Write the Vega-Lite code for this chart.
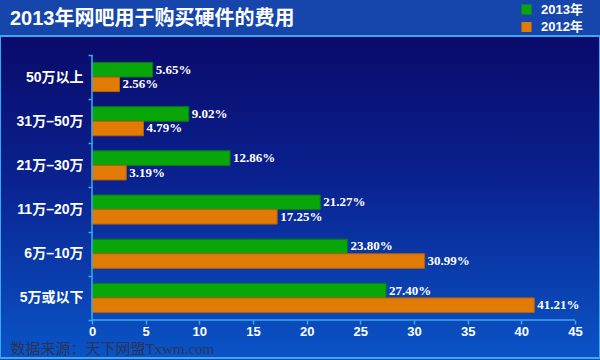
{
  "$schema": "https://vega.github.io/schema/vega-lite/v6.json",
  "width": 600,
  "height": 322,
  "autosize": {"type": "none"},
  "padding": {"left": 0, "top": 36, "right": 0, "bottom": 2},
  "background": "#1646ac",
  "view": {
    "fill": {"gradient": "linear", "x1": 0, "y1": 0, "x2": 0, "y2": 1,
      "stops": [{"offset": 0, "color": "#0a0a6a"}, {"offset": 0.45, "color": "#0a2290"}, {"offset": 1, "color": "#0a54c6"}]},
    "stroke": "#3aaaf0",
    "strokeWidth": 2
  },
  "title": {
    "text": "2013年网吧用于购买硬件的费用",
    "anchor": "start",
    "frame": "group",
    "dx": 10,
    "offset": -26,
    "font": "Liberation Sans, Noto Sans CJK SC",
    "fontSize": 20,
    "fontWeight": "bold",
    "color": "#ffffff"
  },
  "datasets": {
    "main": [
      {"cat": "50万以上", "year": "2013年", "v": 5.65, "label": "5.65%"},
      {"cat": "50万以上", "year": "2012年", "v": 2.56, "label": "2.56%"},
      {"cat": "31万–50万", "year": "2013年", "v": 9.02, "label": "9.02%"},
      {"cat": "31万–50万", "year": "2012年", "v": 4.79, "label": "4.79%"},
      {"cat": "21万–30万", "year": "2013年", "v": 12.86, "label": "12.86%"},
      {"cat": "21万–30万", "year": "2012年", "v": 3.19, "label": "3.19%"},
      {"cat": "11万–20万", "year": "2013年", "v": 21.27, "label": "21.27%"},
      {"cat": "11万–20万", "year": "2012年", "v": 17.25, "label": "17.25%"},
      {"cat": "6万–10万", "year": "2013年", "v": 23.80, "label": "23.80%"},
      {"cat": "6万–10万", "year": "2012年", "v": 30.99, "label": "30.99%"},
      {"cat": "5万或以下", "year": "2013年", "v": 27.40, "label": "27.40%"},
      {"cat": "5万或以下", "year": "2012年", "v": 41.21, "label": "41.21%"}
    ]
  },
  "layer": [
    {
      "data": {"name": "main"},
      "mark": {"type": "bar", "strokeWidth": 1},
      "encoding": {
        "x": {
          "field": "v", "type": "quantitative",
          "scale": {"domain": [-8.572, 47.33], "nice": false, "zero": false},
          "axis": {
            "values": [0, 5, 10, 15, 20, 25, 30, 35, 40, 45],
            "offset": -38,
            "domain": false,
            "grid": false,
            "tickColor": "#3aaaf0",
            "tickSize": 4,
            "tickWidth": 1.5,
            "labelPadding": 1,
            "labelFont": "Liberation Sans",
            "labelFontSize": 13,
            "labelFontWeight": "bold",
            "labelColor": "#ffffff",
            "labelFlush": false,
            "title": "数据来源：天下网盟Txwm.com",
            "titleAnchor": "start",
            "titleAlign": "left",
            "titleX": 10,
            "titleY": 33,
            "titleBaseline": "alphabetic",
            "titleFont": "Liberation Serif, Noto Sans CJK SC",
            "titleFontSize": 15,
            "titleFontWeight": "normal",
            "titleColor": "#2a3458"
          }
        },
        "y": {
          "field": "cat", "type": "nominal",
          "scale": {
            "domain": ["50万以上", "31万–50万", "21万–30万", "11万–20万", "6万–10万", "5万或以下"],
            "paddingInner": 0, "paddingOuter": 0.645, "align": 0.333
          },
          "axis": {
            "offset": -92,
            "domain": false,
            "grid": false,
            "tickBand": "extent",
            "tickColor": "#3aaaf0",
            "tickSize": 4,
            "tickWidth": 1.5,
            "labelPadding": 5,
            "labelFont": "Liberation Sans, Noto Sans CJK SC",
            "labelFontSize": 14,
            "labelFontWeight": "bold",
            "labelColor": "#ffffff",
            "title": null
          }
        },
        "yOffset": {
          "field": "year", "type": "nominal",
          "scale": {"domain": ["2013年", "2012年"], "paddingInner": 0, "paddingOuter": 0.52}
        },
        "color": {
          "field": "year", "type": "nominal",
          "scale": {"domain": ["2013年", "2012年"], "range": ["#08a608", "#e27a06"]},
          "legend": {
            "orient": "none",
            "legendX": 520,
            "legendY": -33,
            "title": null,
            "padding": 0,
            "symbolType": "square",
            "symbolSize": 100,
            "symbolStrokeWidth": 0,
            "rowPadding": 3.5,
            "labelOffset": 8,
            "labelFont": "Liberation Sans, Noto Sans CJK SC",
            "labelFontSize": 13,
            "labelFontWeight": "bold",
            "labelColor": "#ffffff"
          }
        },
        "stroke": {
          "field": "year", "type": "nominal",
          "scale": {"domain": ["2013年", "2012年"], "range": ["#0a7a16", "#b86008"]},
          "legend": null
        }
      }
    },
    {
      "data": {"name": "main"},
      "mark": {"type": "text", "align": "left", "baseline": "middle", "dx": 3,
        "font": "Liberation Serif", "fontSize": 13, "fontWeight": "bold", "color": "#ffffff"},
      "encoding": {
        "x": {"field": "v", "type": "quantitative"},
        "y": {"field": "cat", "type": "nominal"},
        "yOffset": {"field": "year", "type": "nominal"},
        "text": {"field": "label"}
      }
    },
    {
      "data": {"values": [{}]},
      "mark": {"type": "rule", "color": "#3aaaf0", "strokeWidth": 1.5},
      "encoding": {
        "x": {"datum": 0, "type": "quantitative"},
        "y": {"datum": "50万以上", "type": "nominal", "bandPosition": 0},
        "y2": {"datum": "5万或以下", "bandPosition": 1}
      }
    },
    {
      "data": {"values": [{}]},
      "mark": {"type": "rule", "color": "#3aaaf0", "strokeWidth": 1.5},
      "encoding": {
        "x": {"datum": 0, "type": "quantitative"},
        "x2": {"datum": 45},
        "y": {"datum": "5万或以下", "type": "nominal", "bandPosition": 1}
      }
    }
  ]
}
